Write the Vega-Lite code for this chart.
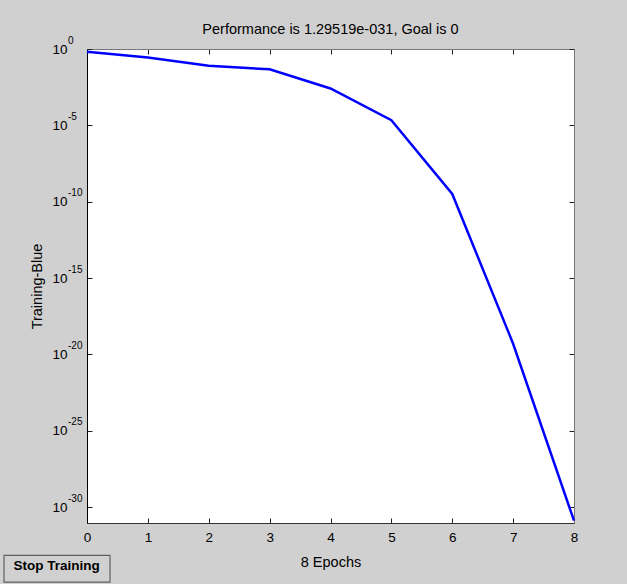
{
  "$schema": "https://vega.github.io/schema/vega-lite/v6.json",
  "width": 487,
  "height": 474,
  "autosize": "none",
  "padding": {"left": 87, "top": 49, "right": 53, "bottom": 61},
  "background": "#d0d0d0",
  "title": {
    "text": "Performance is 1.29519e-031, Goal is 0",
    "font": "Liberation Sans",
    "fontSize": 14.5,
    "fontWeight": "normal",
    "color": "#000000",
    "anchor": "middle",
    "baseline": "bottom",
    "offset": -16
  },
  "config": {
    "view": {"fill": "white", "stroke": null},
    "axis": {
      "grid": false,
      "labelFont": "Liberation Sans",
      "titleFont": "Liberation Sans",
      "labelColor": "#000000",
      "titleColor": "#000000",
      "tickColor": "#222222",
      "labelFontSize": 13.5,
      "titleFontSize": 14.5,
      "titleFontWeight": "normal"
    }
  },
  "data": {
    "values": [
      {"epoch": 0, "perf": 0.66},
      {"epoch": 1, "perf": 0.28},
      {"epoch": 2, "perf": 0.079},
      {"epoch": 3, "perf": 0.047},
      {"epoch": 4, "perf": 0.0026},
      {"epoch": 5, "perf": 2.2e-5},
      {"epoch": 6, "perf": 3.2e-10},
      {"epoch": 7, "perf": 5e-20},
      {"epoch": 8, "perf": 1.29519e-31}
    ]
  },
  "layer": [
    {
      "mark": {"type": "line", "color": "#0000ff", "strokeWidth": 2.5},
      "encoding": {
        "x": {
          "field": "epoch",
          "type": "quantitative",
          "scale": {"domain": [0, 8], "nice": false, "zero": false},
          "axis": {
            "orient": "bottom",
            "values": [0, 1, 2, 3, 4, 5, 6, 7, 8],
            "format": "d",
            "tickSize": -5,
            "labelPadding": 12,
            "labelFlush": false,
            "domainColor": "#333333",
            "title": "8 Epochs",
            "titlePadding": 12
          }
        },
        "y": {
          "field": "perf",
          "type": "quantitative",
          "scale": {"type": "log", "domain": [9.1e-32, 1], "nice": false},
          "axis": {
            "orient": "left",
            "values": [1, 1e-5, 1e-10, 1e-15, 1e-20, 1e-25, 1e-30],
            "labelExpr": "'10'",
            "tickSize": -5,
            "labelPadding": 25,
            "labelFlush": false,
            "labelOverlap": false,
            "domainColor": "#000000",
            "title": "Training-Blue",
            "titlePadding": 7
          }
        }
      }
    },
    {
      "mark": {"type": "line", "opacity": 0},
      "encoding": {
        "x": {
          "field": "epoch",
          "type": "quantitative",
          "axis": {
            "orient": "top",
            "values": [0, 1, 2, 3, 4, 5, 6, 7, 8],
            "labels": false,
            "tickSize": -5,
            "domainColor": "#777777",
            "title": null
          }
        },
        "y": {
          "field": "perf",
          "type": "quantitative",
          "axis": {
            "orient": "right",
            "values": [1, 1e-5, 1e-10, 1e-15, 1e-20, 1e-25, 1e-30],
            "labels": false,
            "tickSize": -5,
            "domainColor": "#777777",
            "title": null
          }
        }
      }
    },
    {
      "mark": {"type": "line", "opacity": 0},
      "encoding": {
        "x": {"field": "epoch", "type": "quantitative", "axis": null},
        "y": {
          "field": "perf",
          "type": "quantitative",
          "axis": {
            "orient": "left",
            "values": [1, 1e-5, 1e-10, 1e-15, 1e-20, 1e-25, 1e-30],
            "labelExpr": "'' + round(log(datum.value) / LN10)",
            "labelFontSize": 10,
            "labelAlign": "left",
            "labelBaseline": "middle",
            "labelOffset": -9,
            "labelPadding": 19.5,
            "labelFlush": false,
            "labelOverlap": false,
            "labelBound": false,
            "ticks": false,
            "domain": false,
            "title": null
          }
        }
      }
    },
    {
      "data": {"values": [{"label": "Stop Training"}]},
      "mark": {"type": "rect", "fill": "#d0d0d0", "stroke": "#606060", "strokeWidth": 1.2},
      "encoding": {
        "x": {"datum": -1.363, "type": "quantitative", "axis": null},
        "x2": {"datum": 0.378},
        "y": {"datum": 6.9e-34, "type": "quantitative", "axis": null},
        "y2": {"datum": 1.23e-35}
      }
    },
    {
      "data": {"values": [{"label": "Stop Training"}]},
      "mark": {"type": "text", "font": "Liberation Sans", "fontSize": 13.5, "fontWeight": "bold", "color": "#000000", "align": "center", "baseline": "middle"},
      "encoding": {
        "x": {"datum": -0.5, "type": "quantitative", "axis": null},
        "y": {"datum": 1.35e-34, "type": "quantitative", "axis": null},
        "text": {"field": "label"}
      }
    }
  ],
  "resolve": {"axis": {"x": "independent", "y": "independent"}}
}
